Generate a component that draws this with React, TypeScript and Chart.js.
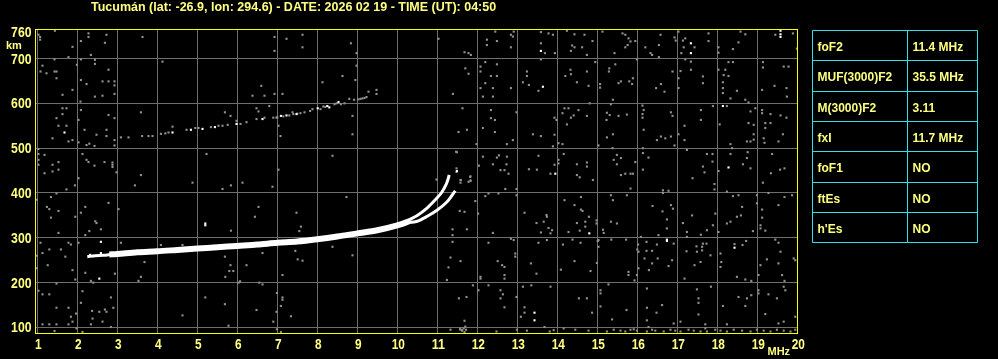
import React, { useEffect, useRef } from "react";
import { Chart, registerables } from "chart.js";

Chart.register(...registerables);

type P = [number, number];

const TITLE = "Tucumán (lat: -26.9, lon: 294.6) - DATE: 2026 02 19 - TIME (UT): 04:50";
const X_TICKS = [1, 2, 3, 4, 5, 6, 7, 8, 9, 10, 11, 12, 13, 14, 15, 16, 17, 18, 19, 20];
const Y_TICKS = [100, 200, 300, 400, 500, 600, 700, 760];
const X_UNIT = "MHz";
const Y_UNIT = "km";
const TABLE_LABELS = ["foF2", "MUF(3000)F2", "M(3000)F2", "fxI", "foF1", "ftEs", "h'Es"];
const TABLE_VALUES = ["11.4 MHz", "35.5 MHz", "3.11", "11.7 MHz", "NO", "NO", "NO"];

const X_MIN = 0.9675;
const X_MAX = 20.0175;
const Y_MIN = 87.7;
const Y_MAX = 763.6;

// F2 echo, ordinary trace (thick part), MHz / km
const traceStart: P[] = [[2.25, 258], [2.45, 260], [2.65, 261], [2.85, 263]];
const traceMain: P[] = [
  [2.8, 263], [3.0, 264], [3.5, 268], [4.0, 270], [4.5, 273], [5.0, 276], [5.5, 279],
  [6.0, 282], [6.5, 285], [7.0, 289], [7.5, 292], [8.0, 297], [8.5, 303], [9.0, 310],
  [9.5, 317], [10.0, 328], [10.3, 337],
];
const traceOEnd: P[] = [[10.25, 338], [10.5, 350], [10.75, 367], [10.95, 385], [11.1, 400], [11.23, 421], [11.3, 440]];
const traceX: P[] = [[10.2, 333], [10.5, 337], [10.75, 348], [11.0, 362], [11.24, 380], [11.37, 395], [11.45, 405]];

// second-hop echo
const hopGray: P[] = [
  [3.09, 524], [3.28, 524], [3.62, 527], [3.78, 527], [3.88, 527], [4.09, 532], [4.2, 533], [4.28, 535],
  [4.38, 548], [4.73, 541], [4.95, 545], [5.03, 545], [5.34, 547], [5.53, 550], [5.63, 550], [5.76, 552],
  [5.98, 561], [6.08, 554], [6.23, 558], [6.48, 565], [6.68, 568], [6.9, 568], [6.98, 568], [7.0, 569],
  [7.15, 571], [7.3, 573], [7.38, 580], [7.4, 576], [7.5, 577], [7.58, 578], [7.68, 580], [7.82, 583],
  [7.88, 587], [8.08, 587], [8.15, 593], [8.2, 592], [8.43, 598], [8.48, 600], [8.59, 598], [8.68, 600],
  [8.8, 610], [8.92, 608], [9.03, 609], [9.08, 610], [9.13, 611], [9.18, 612], [9.23, 614],
];
const hopWhite: P[] = [
  [4.38, 535], [4.84, 541], [5.13, 543], [5.44, 547], [5.98, 554], [6.63, 565], [7.09, 572], [7.23, 573],
  [7.48, 576], [8.01, 589], [8.25, 594], [8.3, 591], [8.53, 603],
];

const whiteDots: P[] = [
  [1.68, 535], [5.2, 332], [5.2, 328], [2.59, 291], [2.59, 266], [2.55, 209], [2.32, 262],
  [13.59, 717], [13.64, 637], [11.49, 449], [11.29, 437], [13.95, 443], [17.34, 734], [17.34, 712],
  [18.14, 594], [18.28, 457], [19.58, 762], [19.58, 754], [19.58, 748], [14.8, 310], [16.74, 296],
  [16.74, 293], [18.43, 278], [13.43, 133], [13.43, 116],
];

const noiseLeftHigh: P[] = [
  [1.07, 748], [1.07, 742], [1.03, 753], [1.44, 762], [2.09, 739], [2.28, 756], [2.28, 748], [2.73, 753],
  [2.69, 735], [1.88, 726], [1.78, 703], [1.43, 698], [2.09, 698], [2.34, 708], [2.44, 697], [2.44, 688],
  [1.99, 686], [1.13, 684], [1.08, 671], [1.23, 667], [1.43, 671], [1.48, 671], [1.48, 656], [2.78, 675],
  [2.09, 652], [2.23, 643], [2.63, 649], [2.78, 649], [2.93, 649], [2.93, 640], [1.88, 630], [1.63, 619],
  [2.44, 615], [2.63, 617], [2.93, 621], [3.63, 748], [4.13, 693], [2.08, 604], [1.63, 589], [1.73, 589],
  [1.63, 576], [1.48, 567], [2.09, 585], [2.03, 563], [2.78, 574], [2.93, 567], [3.59, 580], [1.53, 550],
  [1.73, 550], [1.38, 522], [1.78, 515], [1.88, 518], [2.03, 513], [2.18, 541], [2.48, 530], [2.73, 541],
  [2.73, 527], [2.93, 518], [2.93, 506], [2.23, 507], [2.3, 510], [2.43, 505], [1.03, 498], [1.03, 487],
  [1.03, 474], [1.03, 463], [1.18, 485], [1.38, 463], [1.38, 448], [1.53, 469], [1.53, 452], [1.18, 444],
  [2.13, 487], [2.23, 474], [2.28, 469], [2.43, 461], [2.68, 469], [2.88, 468], [2.88, 463], [2.88, 458],
  [2.98, 446], [2.03, 433], [3.59, 440], [5.23, 487], [7.03, 452], [8.38, 483], [8.88, 572], [8.88, 531],
  [8.13, 647], [8.63, 661], [8.95, 652], [8.98, 712], [8.98, 684], [8.84, 734], [6.93, 748], [7.23, 744],
  [7.63, 753], [7.63, 725], [6.93, 717], [9.48, 630], [9.48, 621], [9.28, 626], [6.6, 639], [6.38, 617],
  [6.68, 617], [6.93, 621], [7.13, 621], [6.8, 594], [6.48, 589], [6.53, 582], [7.03, 550], [7.08, 527],
  [5.69, 580], [5.83, 572], [0.99, 385],
];

const noiseRightHigh: P[] = [
  [11.03, 744], [11.68, 714], [11.78, 712], [11.84, 708], [11.7, 678], [11.78, 666], [11.39, 621], [11.63, 589],
  [11.53, 536], [11.74, 541], [11.49, 491], [11.83, 437], [12.45, 760], [12.24, 742], [12.24, 730], [12.49, 739],
  [12.84, 753], [12.91, 760], [12.89, 749], [12.84, 725], [12.08, 682], [12.08, 671], [12.2, 692], [12.49, 687],
  [12.34, 661], [12.49, 661], [12.2, 645], [12.39, 634], [12.08, 634], [12.14, 615], [12.39, 615], [12.84, 634],
  [12.34, 585], [12.34, 567], [12.44, 563], [12.14, 545], [12.44, 536], [12.74, 509], [12.89, 518], [11.98, 509],
  [12.14, 481], [12.49, 479], [12.54, 484], [12.74, 481], [12.39, 464], [12.04, 461], [12.58, 451], [12.73, 464],
  [12.68, 451], [12.78, 443], [11.83, 428], [11.58, 429], [12.98, 580], [13.59, 759], [13.59, 734], [13.78, 756],
  [13.89, 753], [13.69, 712], [13.94, 712], [13.59, 698], [13.24, 671], [13.24, 661], [13.14, 647], [13.29, 641],
  [13.53, 628], [13.93, 568], [13.98, 563], [13.39, 531], [13.59, 527], [13.93, 530], [14.03, 511], [13.89, 504],
  [14.16, 487], [13.53, 483], [13.29, 453], [13.49, 452], [13.93, 463], [13.83, 443], [14.03, 474], [14.03, 466],
  [14.24, 762], [14.43, 754], [14.68, 753], [14.37, 729], [14.43, 725], [14.62, 725], [14.34, 717], [14.88, 739],
  [14.74, 708], [14.33, 675], [14.34, 665], [14.2, 661], [14.49, 647], [14.74, 671], [14.78, 639], [14.95, 692],
  [14.18, 589], [14.28, 589], [14.53, 585], [14.13, 578], [14.34, 568], [14.41, 573], [14.24, 553], [14.74, 572],
  [14.81, 600], [14.13, 509], [14.49, 464], [14.74, 468], [14.74, 459], [14.49, 440], [14.56, 435], [14.89, 429],
  [15.03, 506], [15.13, 760], [15.63, 756], [15.7, 753], [15.78, 745], [15.83, 738], [15.7, 725], [15.76, 730],
  [15.43, 712], [15.95, 739], [15.99, 698], [15.45, 687], [15.3, 678], [15.29, 671], [15.07, 643], [15.07, 635],
  [15.53, 645], [15.59, 649], [15.8, 649], [15.87, 643], [15.89, 656], [15.39, 608], [15.34, 598], [15.24, 579],
  [15.31, 574], [15.23, 563], [15.53, 572], [15.74, 575], [15.39, 531], [15.24, 524], [15.38, 500], [15.49, 485],
  [15.59, 478], [15.41, 474], [15.49, 464], [15.95, 469], [15.59, 440], [15.7, 443], [15.83, 443], [15.89, 443],
  [16.13, 595], [16.16, 585], [16.13, 576], [16.13, 568], [16.16, 541], [16.14, 500], [16.14, 489], [16.28, 479],
  [16.14, 452], [16.33, 712], [16.37, 708], [16.54, 703], [16.58, 753], [16.54, 730], [16.2, 725], [16.93, 747],
  [16.96, 740], [16.88, 671], [16.47, 634], [16.59, 643], [16.68, 626], [16.84, 580], [16.88, 572], [16.49, 518],
  [16.59, 526], [16.7, 522], [16.84, 526], [16.93, 506], [17.03, 760], [17.14, 740], [17.2, 745], [17.16, 725],
  [17.1, 712], [17.43, 725], [17.34, 693], [17.34, 675], [17.2, 698], [17.08, 672], [17.03, 656], [17.03, 634],
  [17.18, 550], [17.03, 531], [17.18, 518], [17.24, 496], [17.64, 660], [17.64, 645], [17.59, 585], [17.59, 563],
  [17.78, 756], [17.78, 739], [17.74, 487], [17.88, 487], [17.88, 470], [17.64, 459], [17.68, 446], [17.38, 433],
  [17.89, 594], [18.03, 725], [18.03, 713], [18.39, 721], [18.28, 692], [18.39, 692], [18.53, 736], [18.58, 760],
  [18.7, 754], [18.03, 675], [18.2, 675], [18.28, 661], [18.16, 663], [18.14, 647], [18.14, 634], [18.14, 623],
  [18.33, 611], [18.49, 628], [18.7, 608], [18.78, 602], [18.24, 594], [18.06, 553], [18.33, 509], [18.37, 500],
  [18.33, 487], [18.03, 449], [18.64, 464], [18.74, 478], [18.76, 491], [18.83, 455], [18.74, 515], [18.83, 515],
  [18.91, 531], [18.91, 519], [18.78, 556], [18.91, 552], [18.95, 589], [18.83, 582], [19.12, 630], [19.14, 692],
  [19.14, 680], [19.45, 753], [19.66, 682], [19.78, 682], [19.89, 756], [19.43, 639], [19.73, 634], [19.74, 615],
  [19.12, 585], [19.12, 578], [19.2, 556], [19.2, 545], [19.33, 556], [19.33, 576], [19.58, 573], [19.73, 568],
  [19.16, 522], [19.18, 512], [19.53, 515], [19.64, 531], [19.37, 487], [19.34, 444], [19.57, 452], [19.68, 455],
  [19.99, 722], [11.48, 455], [11.48, 447], [11.47, 492], [11.59, 429], [11.82, 436], [11.83, 427], [10.98, 430],
];

const noiseLeftLow: P[] = [
  [1.73, 408], [1.94, 417], [1.48, 399], [1.34, 391], [1.24, 369], [1.3, 364], [1.34, 345], [1.53, 360],
  [1.95, 347], [2.09, 356], [2.2, 369], [2.45, 337], [2.48, 333], [2.59, 319], [2.3, 315], [2.2, 306],
  [1.53, 311], [2.78, 378], [3.03, 364], [3.44, 417], [4.88, 423], [5.63, 409], [5.84, 417], [6.13, 423],
  [6.88, 414], [6.53, 369], [6.44, 347], [5.84, 316], [7.48, 356], [7.59, 325], [7.55, 315], [8.73, 391],
  [1.08, 289], [1.3, 274], [1.13, 266], [1.59, 274], [1.78, 289], [1.84, 285], [2.03, 289], [1.7, 258],
  [1.26, 239], [1.88, 228], [1.48, 198], [1.95, 207], [2.2, 222], [2.34, 204], [2.4, 200], [2.94, 220],
  [3.09, 289], [3.68, 246], [3.59, 213], [3.53, 204], [4.09, 284], [4.63, 284], [5.69, 258], [5.83, 239],
  [5.8, 226], [5.9, 226], [6.23, 239], [5.7, 213], [6.07, 203], [6.03, 200], [6.63, 266], [6.55, 200],
  [6.63, 196], [7.13, 217], [7.45, 271], [7.51, 252], [7.63, 249], [8.38, 280], [8.88, 261], [1.13, 174],
  [1.3, 174], [1.03, 182], [2.13, 181], [2.09, 155], [2.84, 167], [1.48, 144], [1.78, 144], [1.84, 124],
  [1.97, 131], [1.88, 113], [1.13, 107], [1.3, 107], [1.48, 107], [1.78, 107], [2.37, 137], [2.38, 120],
  [2.55, 135], [2.69, 140], [2.73, 135], [2.9, 144], [2.84, 101], [2.63, 113], [2.34, 107], [1.98, 98],
  [1.43, 92], [2.13, 90], [4.63, 127], [5.2, 167], [5.69, 152], [5.78, 104], [6.48, 139], [6.99, 177],
  [7.13, 167], [7.13, 162], [7.09, 148], [6.98, 135], [7.34, 125], [6.9, 113], [6.99, 96], [7.09, 90],
  [0.99, 260], [0.99, 232],
];

const noiseRightLow: P[] = [
  [11.58, 423], [11.78, 425], [12.2, 393], [12.28, 399], [12.53, 399], [12.7, 409], [11.95, 382], [12.02, 354],
  [11.74, 319], [11.38, 319], [11.38, 306], [11.38, 291], [11.56, 360], [11.68, 358], [12.39, 311], [12.28, 289],
  [12.84, 298], [12.91, 295], [12.98, 409], [12.98, 395], [13.18, 356], [13.48, 333], [13.73, 351], [13.74, 347],
  [13.66, 336], [13.78, 322], [13.87, 317], [13.83, 310], [13.59, 312], [13.74, 295], [13.53, 289], [14.18, 384],
  [14.43, 373], [14.59, 391], [14.59, 363], [14.63, 360], [14.49, 333], [14.7, 336], [14.7, 325], [14.79, 347],
  [14.28, 313], [14.56, 316], [14.38, 296], [14.58, 289], [14.14, 285], [14.98, 339], [14.98, 332], [15.14, 318],
  [15.16, 311], [15.34, 336], [15.34, 395], [15.49, 332], [15.39, 384], [15.74, 395], [15.83, 410], [15.03, 295],
  [15.03, 280], [15.35, 296], [15.72, 296], [16.02, 285], [16.03, 269], [16.09, 302], [16.23, 291], [16.23, 271],
  [16.37, 271], [16.49, 285], [16.64, 406], [16.64, 400], [16.78, 405], [16.38, 371], [16.84, 373], [16.89, 365],
  [16.63, 359], [16.74, 341], [16.74, 321], [16.53, 306], [16.91, 287], [16.0, 274], [17.14, 333], [17.37, 350],
  [17.24, 313], [17.24, 302], [17.59, 307], [17.74, 317], [17.73, 287], [17.89, 328], [17.93, 420], [17.93, 408],
  [17.95, 354], [18.03, 313], [18.24, 403], [18.39, 393], [18.53, 395], [18.62, 369], [18.59, 350], [18.49, 347],
  [18.33, 336], [18.24, 332], [18.89, 315], [18.99, 395], [18.99, 377], [19.14, 423], [19.28, 400], [19.53, 373],
  [19.68, 391], [19.87, 395], [19.12, 363], [19.12, 345], [19.08, 328], [19.08, 321], [19.2, 316], [19.53, 289],
  [18.72, 293], [18.63, 284], [18.43, 286], [17.48, 281], [17.64, 287], [17.49, 269], [17.23, 270], [11.33, 256],
  [11.28, 234], [11.24, 206], [11.58, 248], [12.08, 213], [12.08, 209], [12.28, 194], [11.89, 194], [12.62, 239],
  [12.68, 235], [12.68, 217], [12.68, 209], [12.51, 248], [12.95, 265], [12.95, 258], [13.34, 243], [13.48, 220],
  [14.09, 229], [14.43, 248], [14.83, 226], [15.01, 293], [14.99, 244], [15.78, 224], [15.78, 217], [15.93, 205],
  [15.99, 217], [16.03, 232], [16.18, 254], [16.37, 243], [16.29, 228], [16.51, 254], [16.78, 237], [16.87, 250],
  [17.18, 209], [17.43, 239], [17.58, 246], [17.62, 272], [17.62, 280], [17.83, 261], [18.08, 265], [18.1, 246],
  [18.08, 235], [18.49, 213], [18.7, 207], [18.85, 204], [19.03, 217], [19.08, 239], [19.24, 252], [19.45, 296],
  [19.58, 269], [19.62, 217], [19.91, 254], [19.95, 250], [19.68, 204], [19.53, 243], [11.73, 168], [11.54, 165],
  [11.68, 115], [11.66, 98], [11.62, 94], [11.33, 95], [12.03, 183], [12.58, 183], [12.64, 174], [12.58, 165],
  [12.68, 145], [12.98, 168], [13.14, 191], [13.35, 194], [13.18, 145], [13.18, 133], [13.09, 124], [13.83, 191],
  [13.68, 101], [13.91, 94], [14.16, 98], [14.54, 165], [14.74, 165], [14.87, 133], [15.08, 183], [15.08, 176],
  [15.28, 196], [15.08, 147], [15.37, 118], [15.73, 139], [16.24, 187], [16.24, 144], [16.48, 133], [16.24, 116],
  [15.91, 96], [16.28, 101], [16.62, 150], [16.91, 109], [17.08, 113], [17.49, 185], [17.53, 165], [17.53, 155],
  [17.84, 191], [17.53, 129], [17.7, 107], [18.14, 148], [18.24, 107], [18.53, 168], [18.7, 148], [18.74, 165],
  [18.85, 172], [19.03, 176], [19.03, 183], [19.28, 174], [19.2, 130], [19.66, 191], [19.7, 183], [19.49, 165],
  [19.66, 113], [19.53, 109], [19.95, 124],
];

const noiseBottom: P[] = [
  [11.58, 95], [11.57, 97], [11.62, 93], [11.68, 90], [11.72, 95], [11.7, 102], [12.48, 91], [12.99, 95],
  [13.24, 93], [13.81, 91], [14.45, 95], [14.78, 93], [15.24, 91], [15.41, 95], [15.58, 93], [15.7, 91],
  [15.83, 95], [15.99, 93], [16.24, 91], [16.37, 95], [16.45, 93], [16.66, 91], [16.83, 95], [16.95, 93],
  [17.08, 91], [17.28, 95], [17.41, 93], [17.58, 91], [17.7, 98], [17.74, 91], [17.95, 95], [18.08, 93],
  [18.24, 91], [18.41, 95], [18.62, 93], [18.83, 91], [18.99, 95], [19.16, 93], [19.33, 91], [19.49, 95],
  [19.66, 93], [19.83, 91], [19.95, 95],
];

const BG = "#000000";
const GRID = "#6e6e6e";
const DOT = "#909090";
const TEXT = "#ffff80";
const FRAME = "#ffff00";
const CYAN = "#30e0ee";

const toXY = (arr: P[]) => arr.map(([x, y]) => ({ x, y }));

const overlay = {
  id: "overlay",
  afterDraw(chart: any) {
    const ctx = chart.ctx as CanvasRenderingContext2D;
    const { left, top, right, bottom } = chart.chartArea;
    const xs = chart.scales.x;
    const ys = chart.scales.y;
    ctx.save();
    // plot frame
    ctx.strokeStyle = FRAME;
    ctx.lineWidth = 1;
    ctx.strokeRect(left - 0.5, top - 0.5, right - left, bottom - top + 1);

    ctx.fillStyle = TEXT;
    ctx.textBaseline = "alphabetic";
    // title
    ctx.textAlign = "left";
    ctx.font = 'bold 12.5px "Liberation Sans", Arial, sans-serif';
    ctx.fillText(TITLE, 91, 11, 407);

    // tick labels
    ctx.font = 'bold 14px "Liberation Sans", Arial, sans-serif';
    ctx.textAlign = "center";
    X_TICKS.forEach((v) => {
      const s = String(v);
      ctx.fillText(s, xs.getPixelForValue(v) + 1, 349, s.length * 6.6);
    });
    ctx.textAlign = "right";
    Y_TICKS.forEach((v) => {
      const s = String(v);
      ctx.fillText(s, 31.5, ys.getPixelForValue(v) + 5, s.length * 6.8);
    });
    // unit labels
    ctx.textAlign = "left";
    ctx.font = 'bold 11px "Liberation Sans", Arial, sans-serif';
    ctx.fillText(Y_UNIT, 6, 49);
    ctx.fillText(X_UNIT, 767.5, 355);

    // parameter table
    const tx0 = 812, tx1 = 977, tcol = 907, ty0 = 30, rowH = 30.33;
    ctx.strokeStyle = CYAN;
    ctx.beginPath();
    for (let i = 0; i <= TABLE_LABELS.length; i++) {
      const y = Math.round(ty0 + i * rowH) + 0.5;
      ctx.moveTo(tx0 + 0.5, y);
      ctx.lineTo(tx1 + 0.5, y);
    }
    const yEnd = Math.round(ty0 + TABLE_LABELS.length * rowH) + 0.5;
    [tx0, tcol, tx1].forEach((x) => {
      ctx.moveTo(x + 0.5, ty0 + 0.5);
      ctx.lineTo(x + 0.5, yEnd);
    });
    ctx.stroke();
    ctx.font = 'bold 12px "Liberation Sans", Arial, sans-serif';
    TABLE_LABELS.forEach((lab, i) => {
      const yb = Math.round(ty0 + i * rowH) + 21;
      ctx.fillText(lab, 817.5, yb);
      ctx.fillText(TABLE_VALUES[i], 912.5, yb);
    });
    ctx.restore();
  },
};

const dotSet = (data: P[], color: string) => ({
  type: "scatter" as const,
  data: toXY(data),
  pointStyle: "rect",
  pointRadius: 1.5,
  pointBorderWidth: 0,
  pointBackgroundColor: color,
  pointBorderColor: color,
  showLine: false,
});

const lineSet = (data: P[], width: number) => ({
  type: "scatter" as const,
  data: toXY(data),
  showLine: true,
  borderColor: "#ffffff",
  borderWidth: width,
  pointRadius: 0,
  borderJoinStyle: "round",
  borderCapStyle: "butt",
  tension: 0.3,
});

export default function App() {
  const ref = useRef<HTMLCanvasElement | null>(null);
  useEffect(() => {
    if (!ref.current) return;
    const chart = new Chart(ref.current, {
      type: "scatter",
      data: {
        datasets: [
          lineSet(traceMain, 6) as any,
          lineSet(traceStart, 3) as any,
          lineSet(traceOEnd, 3) as any,
          lineSet(traceX, 3) as any,
          dotSet(whiteDots, "#ffffff") as any,
          dotSet(hopWhite, "#ffffff") as any,
          dotSet(hopGray, DOT) as any,
          dotSet(noiseLeftHigh, DOT) as any,
          dotSet(noiseRightHigh, DOT) as any,
          dotSet(noiseLeftLow, DOT) as any,
          dotSet(noiseRightLow, DOT) as any,
          dotSet(noiseBottom, DOT) as any,
        ],
      },
      options: {
        animation: false,
        responsive: false,
        devicePixelRatio: 1,
        events: [],
        layout: { padding: { top: 30, right: 200, left: 0, bottom: 0 } },
        plugins: { legend: { display: false }, tooltip: { enabled: false } },
        scales: {
          x: {
            type: "linear",
            min: X_MIN,
            max: X_MAX,
            ticks: { display: false },
            grid: { color: GRID, lineWidth: 1, drawTicks: false },
            border: { display: false },
            afterBuildTicks: (s: any) => {
              s.ticks = X_TICKS.map((v) => ({ value: v }));
            },
            afterFit: (s: any) => {
              s.height = 26;
            },
          },
          y: {
            type: "linear",
            min: Y_MIN,
            max: Y_MAX,
            ticks: { display: false },
            grid: {
              color: (c: any) => (c.tick && c.tick.value === 760 ? "rgba(0,0,0,0)" : GRID),
              lineWidth: 1,
              drawTicks: false,
            },
            border: { display: false },
            afterBuildTicks: (s: any) => {
              s.ticks = Y_TICKS.map((v) => ({ value: v }));
            },
            afterFit: (s: any) => {
              s.width = 36;
            },
          },
        },
      } as any,
      plugins: [overlay],
    });
    return () => chart.destroy();
  }, []);
  return (
    <div style={{ position: "fixed", left: 0, top: 0, width: 998, height: 359, background: BG }}>
      <canvas ref={ref} width={998} height={359} style={{ display: "block" }} />
    </div>
  );
}
